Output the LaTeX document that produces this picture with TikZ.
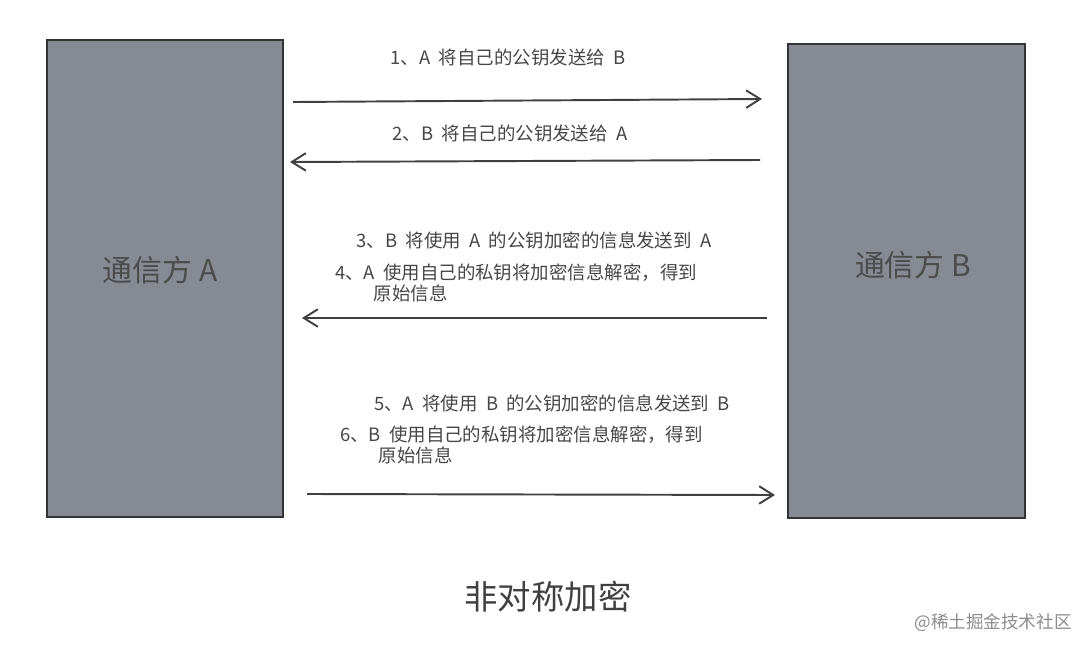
\documentclass[tikz,border=0pt]{standalone}
\usepackage{fontspec}
\setmainfont{Noto Sans CJK SC}
\usetikzlibrary{positioning, arrows.meta}
\definecolor{boxgray}{RGB}{134,138,147}
\definecolor{txtgray}{RGB}{70,70,70}
\tikzset{
  party/.style={draw=black!80, line width=1.6pt, fill=boxgray, inner sep=0pt},
  msg/.style={font=\fontsize{10.5}{12}\selectfont, text=txtgray, align=left, inner sep=1pt},
  send/.style={-{Straight Barb[length=8pt,width=10pt]}, line width=1.1pt, draw=black!75}
}
\begin{document}
\begin{tikzpicture}[x=0.02cm, y=-0.02cm]
        % Marco
        \useasboundingbox (0,0) rectangle (1092,652);

        % Las dos partes
        \draw[party] (47,40) rectangle (283,517);
        \draw[party] (788,44) rectangle (1025,518);
        \node[text=black!70, font=\fontsize{17}{20}\selectfont] (ta) at (160,270) {通信方\ A};
        \node[text=black!70, font=\fontsize{17}{20}\selectfont] (tb) at (913,265) {通信方\ B};

        % Extremos de las flechas
        \coordinate (a1) at (293,102); \coordinate (b1) at (762,99);
        \coordinate (b2) at (760,160); \coordinate (a2) at (290,162);
        \coordinate (b3) at (767,318); \coordinate (a3) at (302,318);
        \coordinate (a4) at (307,494); \coordinate (b4) at (775,495);

        % Flechas
        \draw[send] (a1) -- (b1);
        \draw[send] (b2) -- (a2);
        \draw[send] (b3) -- (a3);
        \draw[send] (a4) -- (b4);

        % Mensajes
        \node[msg] (m1) at (508,57) {1、A\ \ 将自己的公钥发送给\ \ B};
        \node[msg] (m2) at (510,133) {2、B\ \ 将自己的公钥发送给\ \ A};
        \node[msg] (m3) at (534,240) {3、B\ \ 将使用\ \ A\ \ 的公钥加密的信息发送到\ \ A};
        \node[msg, anchor=north west] (m4) at (333,262) {4、A\ \ 使用自己的私钥将加密信息解密，得到\\\hspace{2.1em}原始信息};
        \node[msg] (m5) at (552,403) {5、A\ \ 将使用\ \ B\ \ 的公钥加密的信息发送到\ \ B};
        \node[msg, anchor=north west] (m6) at (338,424) {6、B\ \ 使用自己的私钥将加密信息解密，得到\\\hspace{2.1em}原始信息};

        % Titulo
        \node[text=black!75, font=\fontsize{19}{22}\selectfont] (title) at (548,597) {非对称加密};
        \node[text=black!45, font=\fontsize{10}{12}\selectfont] (mark) at (993,623) {@稀土掘金技术社区};
\end{tikzpicture}
\end{document}
